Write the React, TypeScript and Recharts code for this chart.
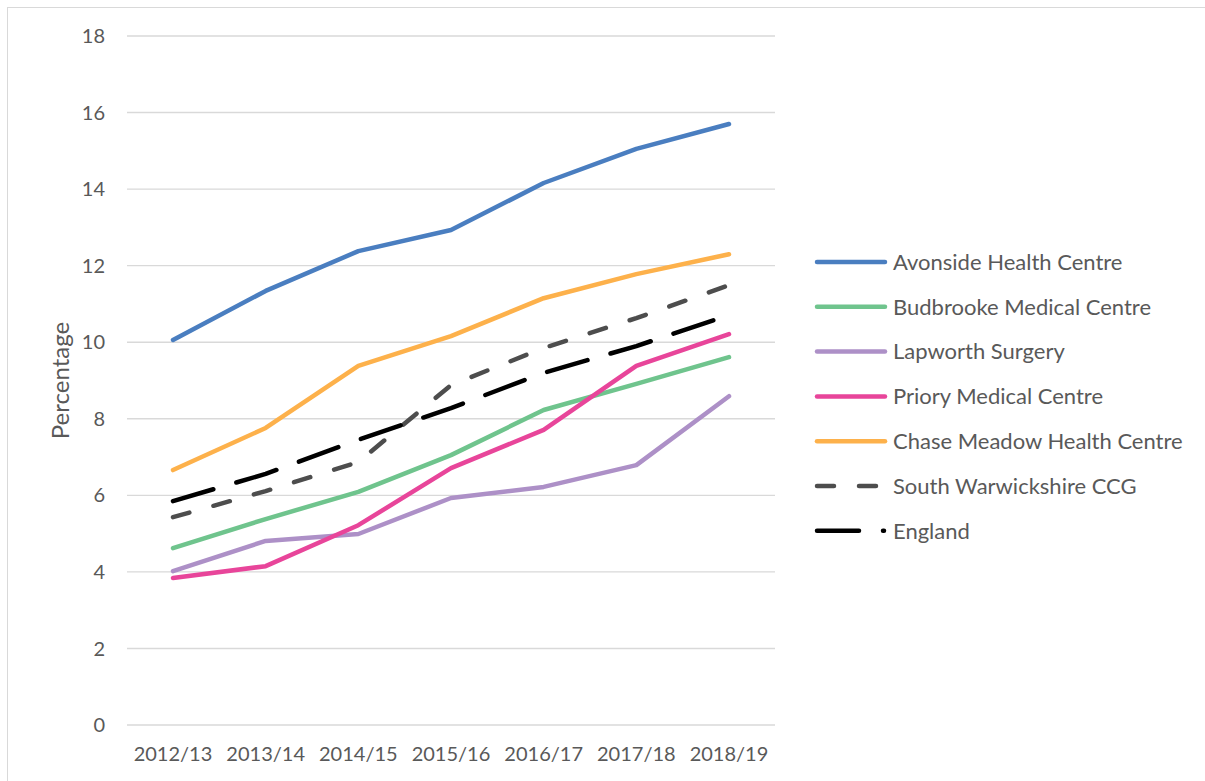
import React from "react";
import { LineChart, Line, XAxis, YAxis, CartesianGrid } from "recharts";

const years = ["2012/13", "2013/14", "2014/15", "2015/16", "2016/17", "2017/18", "2018/19"];

const avonside = [10.06, 11.34, 12.38, 12.93, 14.16, 15.05, 15.7];
const budbrooke = [4.62, 5.38, 6.09, 7.05, 8.23, 8.91, 9.61];
const lapworth = [4.02, 4.81, 4.99, 5.93, 6.22, 6.79, 8.59];
const priory = [3.84, 4.15, 5.22, 6.71, 7.71, 9.38, 10.21];
const chaseMeadow = [6.66, 7.76, 9.38, 10.16, 11.15, 11.78, 12.3];
const southWarks = [5.43, 6.11, 6.87, 8.88, 9.85, 10.63, 11.49];
const england = [5.85, 6.56, 7.45, 8.28, 9.2, 9.9, 10.71];

const yTicks = [0, 2, 4, 6, 8, 10, 12, 14, 16, 18];

const FONT = "Lato, 'Open Sans', sans-serif";
const TEXT = "#595959";

const SERIES = [
  { key: "avonside", name: "Avonside Health Centre", color: "#4A7EC0", dash: undefined },
  { key: "budbrooke", name: "Budbrooke Medical Centre", color: "#6FC48D", dash: undefined },
  { key: "lapworth", name: "Lapworth Surgery", color: "#AD90C7", dash: undefined },
  { key: "priory", name: "Priory Medical Centre", color: "#E8459A", dash: undefined },
  { key: "chaseMeadow", name: "Chase Meadow Health Centre", color: "#FDB14B", dash: undefined },
  { key: "southWarks", name: "South Warwickshire CCG", color: "#4D4D4D", dash: "17 25" },
  { key: "england", name: "England", color: "#000000", dash: "42 24" },
];

const data = years.map((year, i) => ({
  year,
  avonside: avonside[i],
  budbrooke: budbrooke[i],
  lapworth: lapworth[i],
  priory: priory[i],
  chaseMeadow: chaseMeadow[i],
  southWarks: southWarks[i],
  england: england[i],
}));

// legend drawn beside the plot, same look as the office chart legend
function ChartLegend() {
  return (
    <svg width={400} height={310} style={{ position: "absolute", left: 813, top: 245 }}>
      {SERIES.map((s, i) => {
        const y = 17 + i * 44.8;
        return (
          <g key={s.key}>
            <line
              x1={4}
              x2={s.dash ? 71 : 72}
              y1={y}
              y2={y}
              stroke={s.color}
              strokeWidth={4.5}
              strokeLinecap="round"
              strokeDasharray={s.dash}
            />
            <text x={80} y={y} dy="0.35em" fill={TEXT} fontSize={22} fontFamily={FONT}>
              {s.name}
            </text>
          </g>
        );
      })}
    </svg>
  );
}

export default function App() {
  return (
    <div
      style={{
        position: "absolute",
        left: 0,
        top: 0,
        width: 1205,
        height: 781,
        overflow: "hidden",
        background: "#fff",
      }}
    >
      <div
        style={{
          position: "absolute",
          left: 7,
          top: 7,
          width: 1210,
          height: 800,
          border: "1.5px solid #d9d9d9",
        }}
      />
      <LineChart
        width={1205}
        height={781}
        data={data}
        margin={{ top: 36, right: 430, bottom: 0, left: 0 }}
        style={{ position: "absolute", left: 0, top: 0 }}
      >
        <CartesianGrid vertical={false} stroke="#d9d9d9" strokeWidth={1.4} />
        <XAxis
          dataKey="year"
          height={56}
          axisLine={false}
          tickLine={false}
          tickSize={0}
          tickMargin={22}
          interval={0}
          padding={{ left: 46, right: 46 }}
          tick={{ fill: TEXT, fontSize: 20, fontFamily: FONT }}
        />
        <YAxis
          width={127}
          domain={[0, 18]}
          ticks={yTicks}
          axisLine={false}
          tickLine={false}
          tickSize={0}
          tickMargin={22}
          tick={{ fill: TEXT, fontSize: 20, fontFamily: FONT }}
          label={{
            value: "Percentage",
            angle: -90,
            position: "insideLeft",
            offset: 60,
            fill: TEXT,
            fontSize: 24,
            fontFamily: FONT,
            style: { textAnchor: "middle" },
          }}
        />
        {SERIES.map((s) => (
          <Line
            key={s.key}
            dataKey={s.key}
            name={s.name}
            type="linear"
            stroke={s.color}
            strokeWidth={4.5}
            strokeDasharray={s.dash}
            strokeLinecap="round"
            strokeLinejoin="round"
            dot={false}
            activeDot={false}
            isAnimationActive={false}
          />
        ))}
      </LineChart>
      <ChartLegend />
    </div>
  );
}
